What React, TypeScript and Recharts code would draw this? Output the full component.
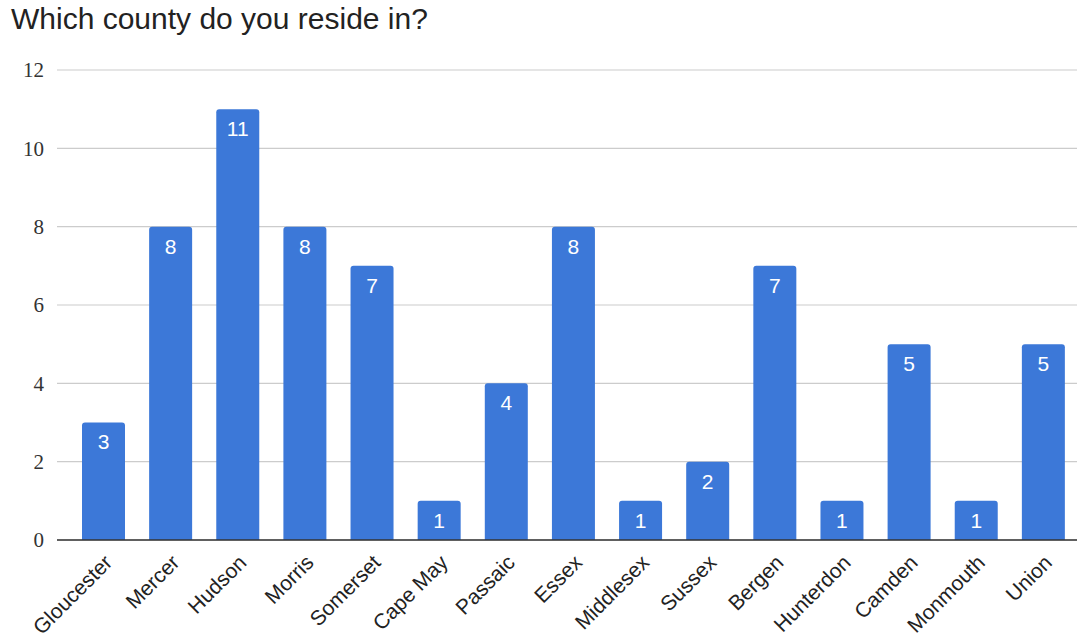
import React from 'react';
import { BarChart, Bar, XAxis, YAxis, CartesianGrid, LabelList } from 'recharts';

const counties = [
  'Gloucester', 'Mercer', 'Hudson', 'Morris', 'Somerset', 'Cape May', 'Passaic', 'Essex',
  'Middlesex', 'Sussex', 'Bergen', 'Hunterdon', 'Camden', 'Monmouth', 'Union',
];
const responses = [3, 8, 11, 8, 7, 1, 4, 8, 1, 2, 7, 1, 5, 1, 5];
const yTicks = [0, 2, 4, 6, 8, 10, 12];

const data = counties.map((county, i) => ({ county, count: responses[i] }));

// county names sit below the axis, tilted 45 degrees
const AngledTick = ({ x, y, payload }: any) => (
  <g transform={`translate(${x},${y + 6})`}>
    <text
      x={0}
      y={0}
      dy={14}
      textAnchor="end"
      transform="rotate(-45)"
      fill="#222"
      fontSize={21}
      fontFamily="'Liberation Sans', Arial, sans-serif"
    >
      {payload.value}
    </text>
  </g>
);

export default function App() {
  return (
    <div style={{ position: 'absolute', left: 0, top: 0, width: 1079, height: 640, background: '#fff' }}>
      <div
        style={{
          position: 'absolute',
          left: 11,
          top: 2,
          fontFamily: "'Liberation Sans', Arial, sans-serif",
          fontSize: 30,
          color: '#222',
          whiteSpace: 'nowrap',
        }}
      >
        Which county do you reside in?
      </div>
      <BarChart
        width={1079}
        height={640}
        data={data}
        margin={{ top: 70, right: 2, left: 0, bottom: 10 }}
      >
        <CartesianGrid vertical={false} stroke="#cccccc" strokeWidth={1.2} />
        <XAxis
          dataKey="county"
          interval={0}
          height={90}
          padding={{ left: 13, right: 0 }}
          tickLine={false}
          axisLine={{ stroke: '#333', strokeWidth: 1.5 }}
          tick={<AngledTick />}
        />
        <YAxis
          domain={[0, 12]}
          ticks={yTicks}
          width={57}
          tickLine={false}
          axisLine={false}
          tickMargin={7}
          tick={{ fontSize: 21, fill: '#333', fontFamily: "'Liberation Serif', 'Times New Roman', serif" }}
        />
        <Bar dataKey="count" fill="#3c78d8" barSize={43} radius={[3, 3, 0, 0]} isAnimationActive={false}>
          <LabelList
            dataKey="count"
            position="insideTop"
            offset={12}
            fill="#ffffff"
            fontSize={21}
            fontFamily="'Liberation Sans', Arial, sans-serif"
          />
        </Bar>
      </BarChart>
    </div>
  );
}
